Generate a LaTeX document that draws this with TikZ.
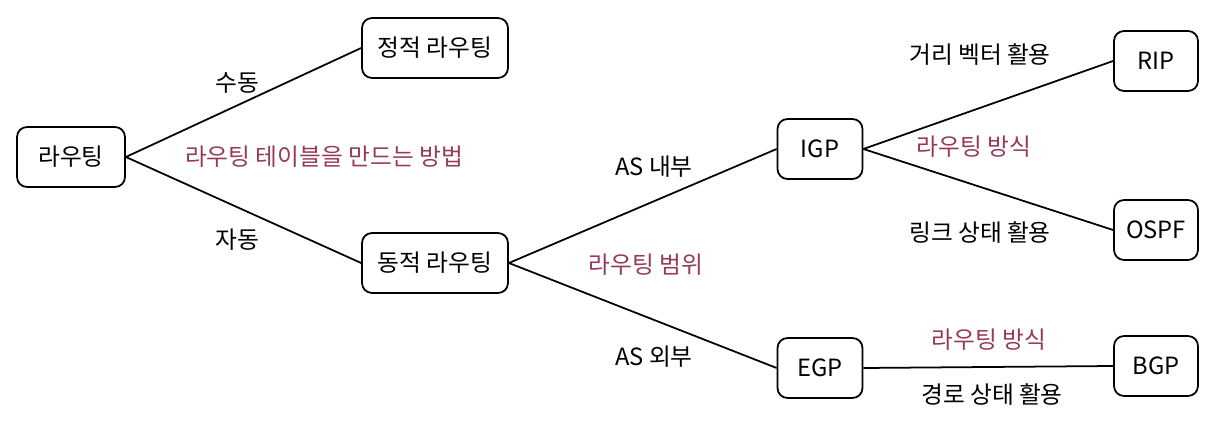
\documentclass[tikz,border=0pt]{standalone}
\usepackage{fontspec}
\setmainfont{Noto Sans CJK KR}
\usepackage{xcolor}
\usetikzlibrary{arrows.meta}
\definecolor{waypink}{RGB}{150,58,92}
\begin{document}
\begin{tikzpicture}[x=0.02cm,y=-0.02cm,line width=1pt,
box/.style={draw,rounded corners=0.2cm,minimum height=1.2cm,inner sep=0pt,font=\fontsize{13.5}{16}\selectfont},
lbl/.style={font=\fontsize{13.5}{16}\selectfont},
way/.style={lbl,text=waypink}]
\useasboundingbox(0,0)rectangle(1228,432);
\node[box,minimum width=2.16cm](route)at(71,157){라우팅};
\node[box,minimum width=2.92cm](static)at(435,48){정적 라우팅};
\node[box,minimum width=2.92cm](dynamic)at(435,263){동적 라우팅};
\node[box,minimum width=1.7cm](igp)at(820,149){IGP};
\node[box,minimum width=1.7cm](egp)at(820,368){EGP};
\node[box,minimum width=1.68cm](rip)at(1156,61){RIP};
\node[box,minimum width=1.68cm](ospf)at(1156,230){OSPF};
\node[box,minimum width=1.68cm](bgp)at(1156,366){BGP};
\draw(route.east)--(static.west);
\draw(route.east)--(dynamic.west);
\draw(dynamic.east)--(igp.west);
\draw(dynamic.east)--(egp.west);
\draw(igp.east)--(rip.west);
\draw(igp.east)--(ospf.west);
\draw(egp.east)--(bgp.west);
\node[lbl](manual)at(237,83){수동};
\node[lbl](auto)at(237,240){자동};
\node[way](how)at(324,157){라우팅 테이블을 만드는 방법};
\node[lbl](inner)at(654,167){AS 내부};
\node[lbl](outer)at(654,357){AS 외부};
\node[way](range)at(646,265){라우팅 범위};
\node[lbl](dist)at(980,55){거리 벡터 활용};
\node[way](wayi)at(974,147){라우팅 방식};
\node[lbl](link)at(980,233){링크 상태 활용};
\node[way](waye)at(989,340){라우팅 방식};
\node[lbl](path)at(992,395){경로 상태 활용};
\end{tikzpicture}
\end{document}
